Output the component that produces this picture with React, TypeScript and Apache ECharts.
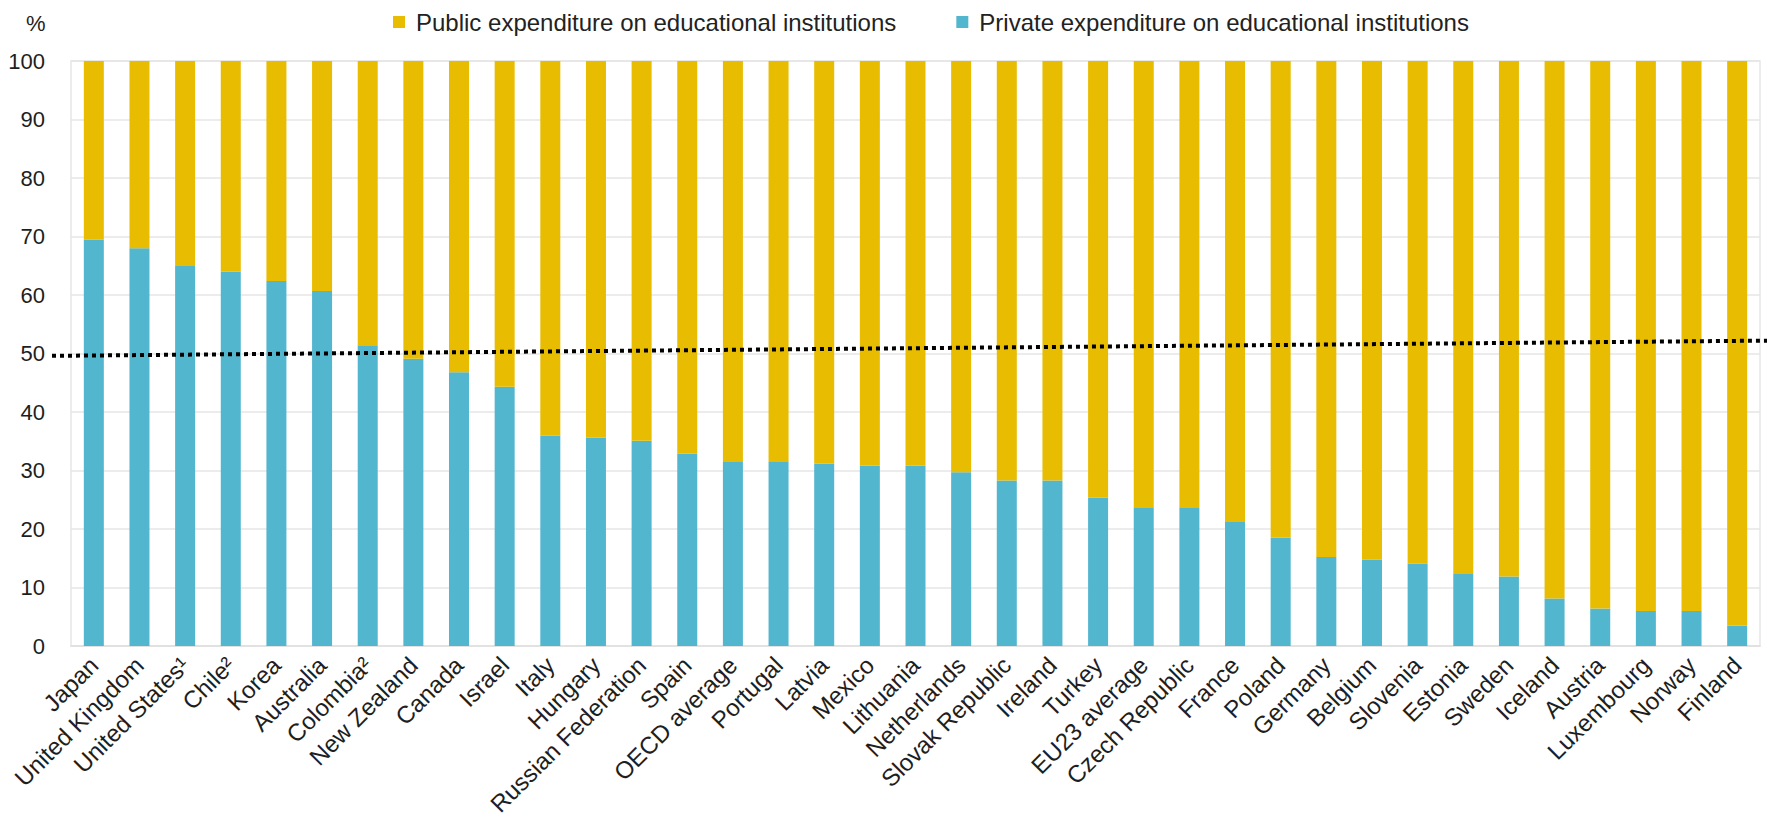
import React, { useEffect, useRef } from "react";
import * as echarts from "echarts";

const categories = [
  "Japan", "United Kingdom", "United States¹", "Chile²", "Korea", "Australia", "Colombia²",
  "New Zealand", "Canada", "Israel", "Italy", "Hungary", "Russian Federation", "Spain",
  "OECD average", "Portugal", "Latvia", "Mexico", "Lithuania", "Netherlands", "Slovak Republic",
  "Ireland", "Turkey", "EU23 average", "Czech Republic", "France", "Poland", "Germany",
  "Belgium", "Slovenia", "Estonia", "Sweden", "Iceland", "Austria", "Luxembourg", "Norway", "Finland",
];

const privateValues = [
  69.5, 68.0, 65.1, 64.0, 62.4, 60.7, 51.4, 49.1, 46.8, 44.3, 36.0, 35.6, 35.1, 32.9, 31.6,
  31.6, 31.2, 30.8, 30.8, 29.7, 28.3, 28.3, 25.4, 23.7, 23.7, 21.2, 18.5, 15.2, 14.8, 14.1,
  12.3, 11.9, 8.1, 6.4, 6.0, 6.0, 3.5,
];

const publicValues = [
  30.5, 32.0, 34.9, 36.0, 37.6, 39.3, 48.6, 50.9, 53.2, 55.7, 64.0, 64.4, 64.9, 67.1, 68.4,
  68.4, 68.8, 69.2, 69.2, 70.3, 71.7, 71.7, 74.6, 76.3, 76.3, 78.8, 81.5, 84.8, 85.2, 85.9,
  87.7, 88.1, 91.9, 93.6, 94.0, 94.0, 96.5,
];

// dotted reference line: [relative position across chart, value]
const dottedLine = [
  [0, 49.6],
  [1, 52.2],
];

const yTicks = { min: 0, max: 100, interval: 10 };

const PUBLIC_NAME = "Public expenditure on educational institutions";
const PRIVATE_NAME = "Private expenditure on educational institutions";

const FONT = "'Liberation Sans', Arial, Helvetica, sans-serif";

export default function App() {
  const ref = useRef<HTMLDivElement>(null);

  useEffect(() => {
    if (!ref.current) return;
    const chart = echarts.init(ref.current, null, { renderer: "svg" });
    chart.setOption({
      animation: false,
      backgroundColor: "#ffffff",
      textStyle: { fontFamily: FONT },
      legend: {
        data: [PUBLIC_NAME, PRIVATE_NAME],
        top: 5,
        left: 388,
        itemWidth: 12,
        itemHeight: 12,
        itemGap: 60,
        icon: "rect",
        textStyle: { fontSize: 24, color: "#222", fontFamily: FONT, padding: [0, 0, 0, 6] },
      },
      graphic: [
        {
          type: "text",
          left: 26,
          top: 12,
          style: { text: "%", fontSize: 22, fill: "#222", fontFamily: FONT },
        },
      ],
      grid: [
        {
          left: 71,
          right: 7,
          top: 61,
          bottom: 181,
          show: true,
          borderColor: "#e6e6e6",
          borderWidth: 1.5,
        },
        { left: 52, right: 0, top: 61, bottom: 181 },
      ],
      xAxis: [
        {
          type: "category",
          gridIndex: 0,
          data: categories,
          axisLine: { lineStyle: { color: "#e0e0e0", width: 1.5 } },
          axisTick: { show: false },
          axisLabel: {
            interval: 0,
            rotate: 45,
            fontSize: 24,
            color: "#1e1e1e",
            margin: 15,
            fontFamily: FONT,
          },
        },
        { type: "value", gridIndex: 1, min: 0, max: 1, show: false },
      ],
      yAxis: [
        {
          type: "value",
          gridIndex: 0,
          min: yTicks.min,
          max: yTicks.max,
          interval: yTicks.interval,
          axisLine: { show: false },
          axisTick: { show: false },
          axisLabel: { fontSize: 22, color: "#1e1e1e", margin: 26, fontFamily: FONT },
          splitLine: { lineStyle: { color: "#e6e6e6", width: 1.5 } },
        },
        { type: "value", gridIndex: 1, min: yTicks.min, max: yTicks.max, show: false },
      ],
      series: [
        {
          name: PRIVATE_NAME,
          type: "bar",
          stack: "total",
          data: privateValues,
          barWidth: 20,
          itemStyle: { color: "#52B6CF" },
        },
        {
          name: PUBLIC_NAME,
          type: "bar",
          stack: "total",
          data: publicValues,
          barWidth: 20,
          itemStyle: { color: "#E8BC00" },
        },
        {
          name: "trend",
          type: "line",
          xAxisIndex: 1,
          yAxisIndex: 1,
          data: dottedLine,
          symbol: "none",
          z: 10,
          lineStyle: { color: "#000", width: 4, type: [4, 4] },
        },
      ],
    });
    return () => chart.dispose();
  }, []);

  return (
    <div
      ref={ref}
      style={{ position: "fixed", left: 0, top: 0, width: 1767, height: 827 }}
    />
  );
}
